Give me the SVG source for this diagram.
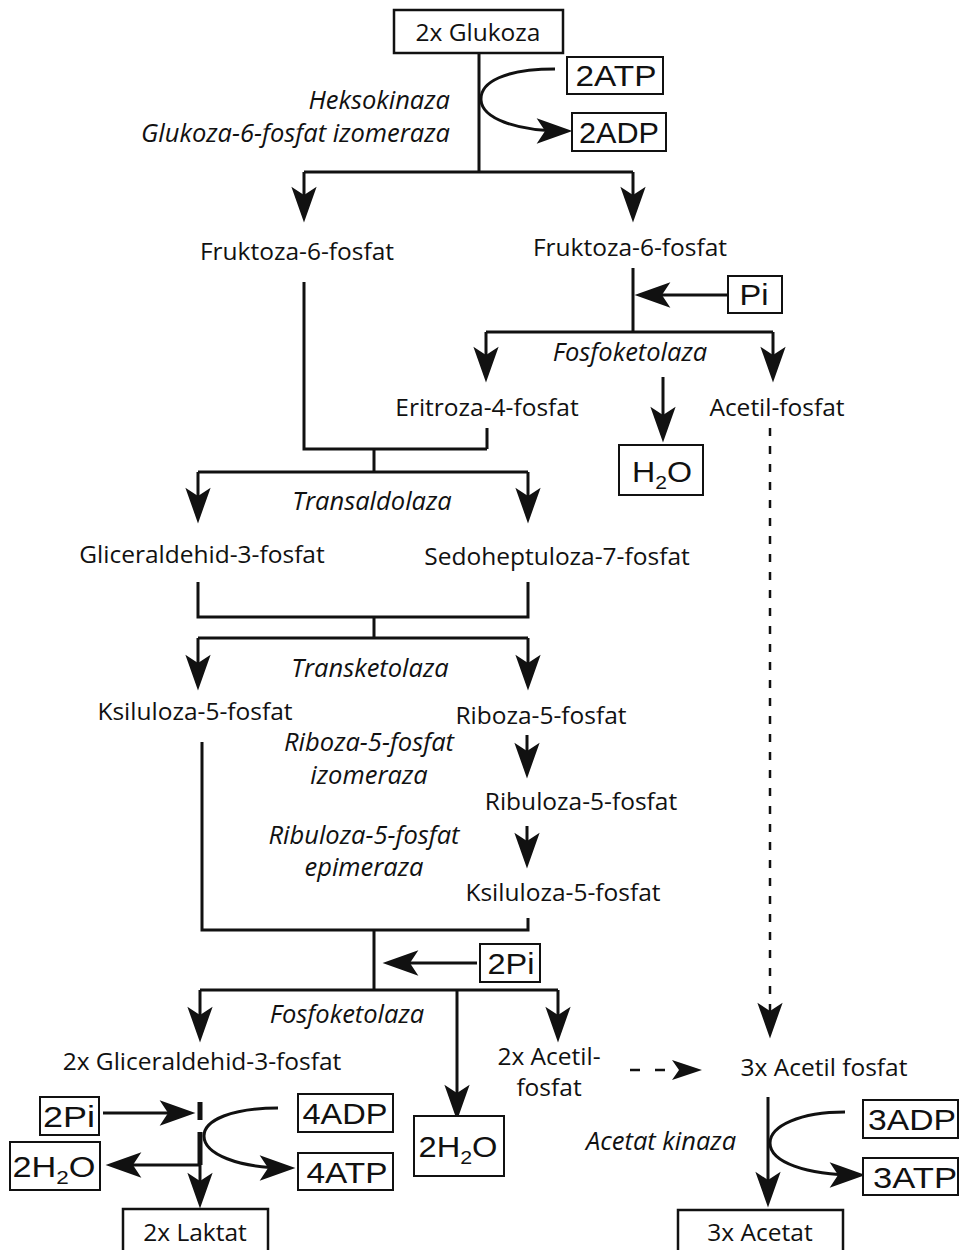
<svg xmlns="http://www.w3.org/2000/svg" width="960" height="1250" viewBox="0 0 960 1250">
<style>
.t{font-family:"Open Sans","Liberation Sans",sans-serif;font-size:24.5px;fill:#111;text-anchor:middle}
.i{font-family:"Open Sans","Liberation Sans",sans-serif;font-size:25.5px;font-style:italic;fill:#111;text-anchor:middle}
.b{font-family:"Liberation Sans",Arial,sans-serif;font-size:29px;fill:#111;text-anchor:middle}
.box{fill:#fff;stroke:#111;stroke-width:2}
.mbox{fill:#fff;stroke:#111;stroke-width:2.5}
.c{fill:none;stroke:#111;stroke-width:3}
.d{fill:none;stroke:#111;stroke-width:2.5;stroke-dasharray:8 10}
</style>
<defs>
<marker id="ah" markerUnits="userSpaceOnUse" markerWidth="40" markerHeight="30" viewBox="-28 -14 38 28" refX="0" refY="0" orient="auto">
<path d="M8,0 L-26,-12 L-18,0 L-26,12 Z" fill="#111"/>
</marker>
</defs>
<rect width="960" height="1250" fill="#fff"/>
<g id="connectors">
<path class="c" d="M479,53 V172 M304,172 H633"/>
<path class="c" d="M304,172 V214" marker-end="url(#ah)"/>
<path class="c" d="M633,172 V214" marker-end="url(#ah)"/>
<path class="c" d="M555,69 C505,69 480,82 481,100 C482,118 515,131 564,131" marker-end="url(#ah)"/>
<path class="c" d="M304,282 V449 H487 M487,428 V449 M374,449 V472 M198,472 H528"/>
<path class="c" d="M198,472 V515" marker-end="url(#ah)"/>
<path class="c" d="M528,472 V515" marker-end="url(#ah)"/>
<path class="c" d="M633,268 V332 M486,332 H773"/>
<path class="c" d="M727,295 H643" marker-end="url(#ah)"/>
<path class="c" d="M486,332 V374" marker-end="url(#ah)"/>
<path class="c" d="M773,332 V374" marker-end="url(#ah)"/>
<path class="c" d="M663,377 V434" marker-end="url(#ah)"/>
<path class="c" d="M198,582 V617 H528 V582 M374,617 V638 M198,638 H528"/>
<path class="c" d="M198,638 V682" marker-end="url(#ah)"/>
<path class="c" d="M528,638 V682" marker-end="url(#ah)"/>
<path class="c" d="M527,735 V770" marker-end="url(#ah)"/>
<path class="c" d="M527,826 V860" marker-end="url(#ah)"/>
<path class="c" d="M202,742 V930 H528 V918 M374,930 V990 M200,990 H558"/>
<path class="c" d="M477,963 H391" marker-end="url(#ah)"/>
<path class="c" d="M200,990 V1034" marker-end="url(#ah)"/>
<path class="c" d="M558,990 V1034" marker-end="url(#ah)"/>
<path class="c" d="M457,990 V1112" marker-end="url(#ah)"/>
<path class="d" d="M770,428 V1030" marker-end="url(#ah)"/>
<path class="c" d="M630,1070 H666" style="stroke-dasharray:10 15;stroke-width:2.5"/>
<path d="M702,1070 L672,1060 L679,1070 L672,1080 Z" fill="#111"/>
<path class="c" d="M103,1113 H187" marker-end="url(#ah)"/>
<path class="c" d="M200,1102 V1120 M200,1132 V1165" style="stroke-width:5"/>
<path class="c" d="M200,1165 H114" marker-end="url(#ah)"/>
<path class="c" d="M200,1165 V1200" marker-end="url(#ah)"/>
<path class="c" d="M278,1108 C232,1108 204,1120 204,1136 C204,1154 238,1168 287,1168" marker-end="url(#ah)"/>
<path class="c" d="M768,1097 V1199" marker-end="url(#ah)"/>
<path class="c" d="M845,1112 C800,1112 770,1126 770,1143 C770,1162 806,1175 857,1175" marker-end="url(#ah)"/>
</g>
<g id="glukoza"><rect class="mbox" x="394" y="10" width="169" height="43"/><text class="t" x="478" y="41">2x Glukoza</text></g>
<g id="atp1"><rect class="box" x="567" y="57" width="96" height="37"/><text class="b" x="616" y="86" textLength="81" lengthAdjust="spacingAndGlyphs">2ATP</text></g>
<g id="adp1"><rect class="box" x="572" y="113" width="94" height="38"/><text class="b" x="619" y="143" textLength="80" lengthAdjust="spacingAndGlyphs">2ADP</text></g>
<g id="enz1"><text class="i" x="450" y="109" style="text-anchor:end">Heksokinaza</text><text class="i" x="450" y="142" style="text-anchor:end">Glukoza-6-fosfat izomeraza</text></g>
<g id="f6p-left"><text class="t" x="297" y="260">Fruktoza-6-fosfat</text></g>
<g id="f6p-right"><text class="t" x="630" y="256">Fruktoza-6-fosfat</text></g>
<g id="pi1"><rect class="box" x="728" y="276" width="54" height="37"/><text class="b" x="754" y="305" textLength="29" lengthAdjust="spacingAndGlyphs">Pi</text></g>
<g id="enz2"><text class="i" x="630" y="361">Fosfoketolaza</text></g>
<g id="e4p"><text class="t" x="487" y="416">Eritroza-4-fosfat</text></g>
<g id="acp1"><text class="t" x="777" y="416">Acetil-fosfat</text></g>
<g id="h2o1"><rect class="box" x="619" y="445" width="84" height="50"/><text class="b" x="662" y="482" textLength="60" lengthAdjust="spacingAndGlyphs">H<tspan font-size="19" dy="7">2</tspan><tspan dy="-7">O</tspan></text></g>
<g id="enz3"><text class="i" x="372" y="510">Transaldolaza</text></g>
<g id="g3p1"><text class="t" x="202" y="563">Gliceraldehid-3-fosfat</text></g>
<g id="s7p"><text class="t" x="557" y="565">Sedoheptuloza-7-fosfat</text></g>
<g id="enz4"><text class="i" x="370" y="677">Transketolaza</text></g>
<g id="x5p1"><text class="t" x="195" y="720">Ksiluloza-5-fosfat</text></g>
<g id="r5p"><text class="t" x="541" y="724">Riboza-5-fosfat</text></g>
<g id="enz5"><text class="i" x="369" y="751">Riboza-5-fosfat</text><text class="i" x="369" y="784">izomeraza</text></g>
<g id="ru5p"><text class="t" x="581" y="810">Ribuloza-5-fosfat</text></g>
<g id="enz6"><text class="i" x="364" y="844">Ribuloza-5-fosfat</text><text class="i" x="364" y="876">epimeraza</text></g>
<g id="x5p2"><text class="t" x="563" y="901">Ksiluloza-5-fosfat</text></g>
<g id="pi2"><rect class="box" x="480" y="944" width="60" height="38"/><text class="b" x="511" y="974" textLength="47" lengthAdjust="spacingAndGlyphs">2Pi</text></g>
<g id="enz7"><text class="i" x="347" y="1023">Fosfoketolaza</text></g>
<g id="g3p2"><text class="t" x="202" y="1070">2x Gliceraldehid-3-fosfat</text></g>
<g id="acp2"><text class="t" x="549" y="1065">2x Acetil-</text><text class="t" x="549" y="1096">fosfat</text></g>
<g id="acp3"><text class="t" x="824" y="1076">3x Acetil fosfat</text></g>
<g id="h2o2"><rect class="box" x="414" y="1116" width="90" height="60"/><text class="b" x="458" y="1157" textLength="79" lengthAdjust="spacingAndGlyphs">2H<tspan font-size="19" dy="7">2</tspan><tspan dy="-7">O</tspan></text></g>
<g id="pi3"><rect class="box" x="40" y="1097" width="59" height="38"/><text class="b" x="69" y="1127" textLength="52" lengthAdjust="spacingAndGlyphs">2Pi</text></g>
<g id="h2o3"><rect class="box" x="10" y="1142" width="90" height="48"/><text class="b" x="54" y="1177" textLength="83" lengthAdjust="spacingAndGlyphs">2H<tspan font-size="19" dy="7">2</tspan><tspan dy="-7">O</tspan></text></g>
<g id="adp2"><rect class="box" x="298" y="1094" width="95" height="38"/><text class="b" x="345" y="1124" textLength="85" lengthAdjust="spacingAndGlyphs">4ADP</text></g>
<g id="atp2"><rect class="box" x="298" y="1153" width="95" height="37"/><text class="b" x="347" y="1183" textLength="81" lengthAdjust="spacingAndGlyphs">4ATP</text></g>
<g id="laktat"><rect class="mbox" x="123" y="1209" width="145" height="45"/><text class="t" x="195" y="1241">2x Laktat</text></g>
<g id="enz8"><text class="i" x="661" y="1150">Acetat kinaza</text></g>
<g id="adp3"><rect class="box" x="863" y="1100" width="95" height="38"/><text class="b" x="912" y="1130" textLength="88" lengthAdjust="spacingAndGlyphs">3ADP</text></g>
<g id="atp3"><rect class="box" x="863" y="1158" width="95" height="37"/><text class="b" x="915" y="1188" textLength="84" lengthAdjust="spacingAndGlyphs">3ATP</text></g>
<g id="acetat"><rect class="mbox" x="678" y="1210" width="165" height="44"/><text class="t" x="760" y="1241">3x Acetat</text></g>
</svg>
